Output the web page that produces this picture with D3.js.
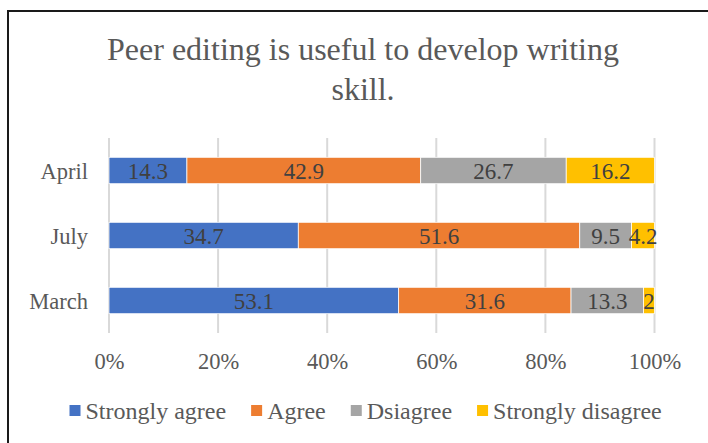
<!DOCTYPE html>
<html>
<head>
<meta charset="utf-8">
<script src="https://cdn.jsdelivr.net/npm/d3@7/dist/d3.min.js"></script>
</head>
<body style="margin:0">
<svg id="chart" width="708" height="443"></svg>
<script>
// Survey responses per month, percentages per answer
const months = ["April", "July", "March"];
const seriesNames = ["Strongly agree", "Agree", "Dsiagree", "Strongly disagree"];
const stronglyAgree = [14.3, 34.7, 53.1];
const agree = [42.9, 51.6, 31.6];
const disagree = [26.7, 9.5, 13.3];
const stronglyDisagree = [16.2, 4.2, 2];
const colors = ["#4472C4", "#ED7D31", "#A5A5A5", "#FFC000"];
const tickValues = [0, 0.2, 0.4, 0.6, 0.8, 1];
const titleLines = ["Peer editing is useful to develop writing", "skill."];

const FONT = "'Liberation Serif'";

const seriesValues = [stronglyAgree, agree, disagree, stronglyDisagree];
const rows = months.map((m, i) => {
  const r = { month: m };
  seriesNames.forEach((s, k) => { r[s] = seriesValues[k][i]; });
  return r;
});
// Each row is normalised to 100%
const stacked = d3.stack().keys(seriesNames).offset(d3.stackOffsetExpand)(rows);

const svg = d3.select("#chart").style("display", "block");

// Chart frame (top and left edges)
svg.append("line").attr("x1", 7).attr("y1", 11).attr("x2", 708).attr("y2", 11)
  .attr("stroke", "#1a1a1a").attr("stroke-width", 2);
svg.append("line").attr("x1", 8).attr("y1", 10).attr("x2", 8).attr("y2", 443)
  .attr("stroke", "#1a1a1a").attr("stroke-width", 2);

// Title
const title = svg.append("text")
  .attr("text-anchor", "middle")
  .style("font-family", FONT)
  .attr("font-size", 32).attr("fill", "#595959");
titleLines.forEach((line, i) => {
  title.append("tspan").attr("x", 363).attr("y", 60 + i * 40)
    .style("font-family", FONT).text(line);
});

const x = d3.scaleLinear().domain([0, 1]).range([109, 654.5]);
const y = d3.scaleBand().domain(months).range([138, 333]).paddingInner(0.594).paddingOuter(0.297);

// Vertical gridlines
svg.append("g").selectAll("line").data(tickValues).join("line")
  .attr("x1", d => x(d)).attr("x2", d => x(d))
  .attr("y1", 138).attr("y2", 333)
  .attr("stroke", "#D9D9D9").attr("stroke-width", 2);

// X axis tick labels
const xAxis = d3.axisBottom(x).tickValues(tickValues).tickSize(0).tickPadding(0)
  .tickFormat(d3.format(".0%"));
const gx = svg.append("g").attr("transform", "translate(0,352)").call(xAxis)
  .attr("font-family", null).attr("font-size", null);
gx.select(".domain").remove();
gx.selectAll("text")
  .style("font-family", FONT)
  .attr("font-size", 22.5).attr("fill", "#595959").attr("dy", 0).attr("y", 17);

// Y axis category labels
const yAxis = d3.axisLeft(y).tickSize(0).tickPadding(0);
const gy = svg.append("g").attr("transform", "translate(88,0)").call(yAxis)
  .attr("font-family", null).attr("font-size", null);
gy.select(".domain").remove();
gy.selectAll("text")
  .style("font-family", FONT)
  .attr("font-size", 22.5).attr("fill", "#595959").attr("dy", 0).attr("y", 8);

// Stacked bars
const layers = svg.append("g").selectAll("g").data(stacked).join("g")
  .attr("fill", (d, i) => colors[i]);
layers.selectAll("rect").data(d => d).join("rect")
  .attr("x", d => x(d[0]))
  .attr("y", d => y(d.data.month))
  .attr("width", d => x(d[1]) - x(d[0]))
  .attr("height", y.bandwidth())
  .attr("stroke", "#fff").attr("stroke-width", 0.75);

// Value labels centred in each segment
const labels = svg.append("g");
stacked.forEach(layer => {
  labels.selectAll(null).data(layer).join("text")
    .attr("x", d => (x(d[0]) + x(d[1])) / 2)
    .attr("y", d => y(d.data.month) + y.bandwidth() / 2 + 8)
    .attr("text-anchor", "middle")
    .style("font-family", FONT)
    .attr("font-size", 23).attr("fill", "#404040")
    .text(d => d.data[layer.key]);
});

// Legend
const legend = svg.append("g").attr("transform", "translate(0,411)");
const items = legend.selectAll("g").data(seriesNames).join("g");
items.append("rect").attr("width", 11).attr("height", 11).attr("y", -6)
  .attr("fill", (d, i) => colors[i]);
items.append("text").attr("x", 16).attr("y", 8)
  .style("font-family", FONT)
  .attr("font-size", 24).attr("fill", "#595959").text(d => d);
const gap = 25;
const widths = [];
items.each(function () {
  widths.push(16 + this.querySelector("text").getComputedTextLength());
});
let cursor = 69.5;
items.attr("transform", (d, i) => {
  const t = `translate(${cursor},0)`;
  cursor += widths[i] + gap;
  return t;
});
</script>
</body>
</html>
